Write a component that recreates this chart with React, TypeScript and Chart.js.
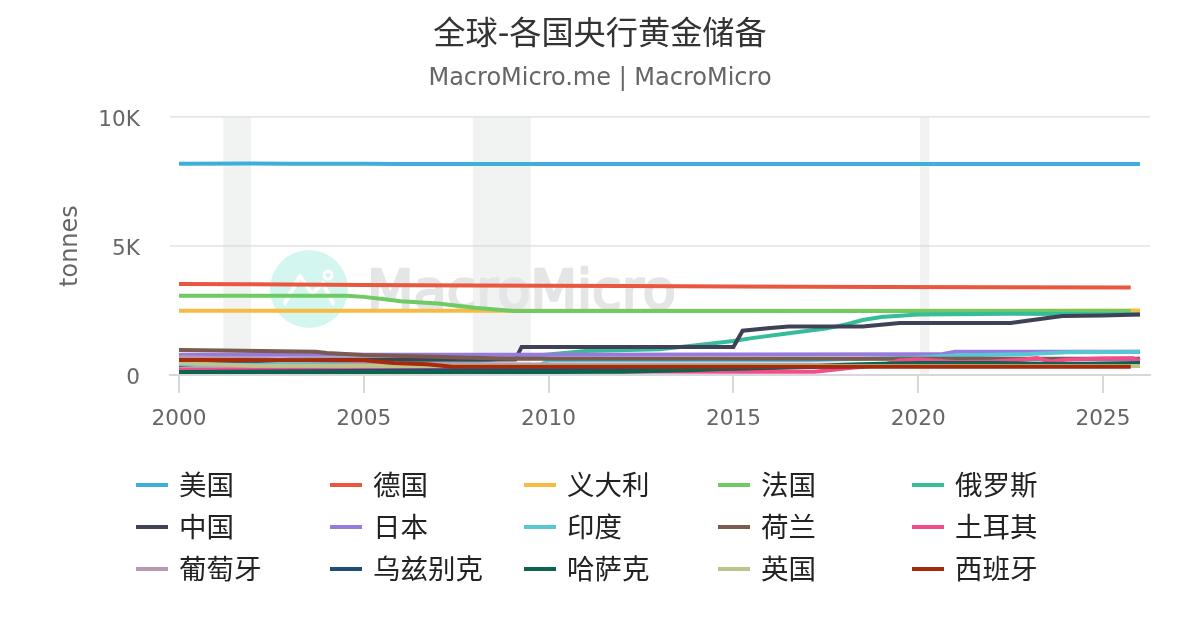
import React, { useEffect, useRef } from "react";
import { Chart, registerables } from "chart.js";

Chart.register(...registerables);

const FONT = '"DejaVu Sans", "Noto Sans CJK SC", sans-serif';

const titleText = "全球-各国央行黄金储备";
const subtitleText = "MacroMicro.me | MacroMicro";
const yAxisTitle = "tonnes";
const xTickYears = [2000, 2005, 2010, 2015, 2020, 2025];
const yTickValues = [0, 5000, 10000];
const recessions = [
  [2001.2, 2001.95],
  [2007.95, 2009.52],
  [2020.05, 2020.3],
];

const usa = [[2000, 8195], [2002, 8200], [2003, 8190], [2005, 8190], [2006, 8180], [2026, 8180]];
const germany = [[2000, 3527], [2002, 3520], [2005, 3490], [2008, 3475], [2012, 3450], [2015, 3430], [2019, 3415], [2022, 3400], [2025.75, 3390]];
const italy = [[2000, 2490], [2008, 2490], [2015, 2490], [2022, 2495], [2026, 2500]];
const france = [[2000, 3075], [2004.55, 3075], [2005, 3030], [2005.5, 2950], [2006, 2860], [2007, 2770], [2008, 2610], [2009.05, 2480], [2015, 2480], [2025.75, 2480]];
const russia = [[2000, 400], [2005, 420], [2008, 530], [2010, 800], [2011, 930], [2013, 1000], [2014, 1150], [2015, 1320], [2015.5, 1430], [2016.5, 1620], [2017.5, 1800], [2018.07, 1970], [2018.5, 2130], [2019, 2250], [2020, 2350], [2022.5, 2375], [2024, 2370], [2026, 2360]];
const china = [[2000, 395], [2003, 600], [2009.1, 600], [2009.27, 1090], [2015, 1090], [2015.25, 1717], [2016, 1820], [2016.5, 1880], [2018.5, 1880], [2019.5, 2015], [2022.5, 2015], [2023.3, 2170], [2023.9, 2290], [2025, 2310], [2026, 2350]];
const japan = [[2000, 790], [2009, 790], [2020.6, 800], [2021, 900], [2026, 900]];
const india = [[2000, 425], [2001, 400], [2009.8, 410], [2010, 560], [2017, 570], [2018, 610], [2019, 640], [2020, 680], [2021, 760], [2022, 790], [2023, 810], [2024, 880], [2026, 905]];
const netherlands = [[2000, 970], [2001.2, 950], [2003.7, 900], [2004, 850], [2005, 780], [2009, 630], [2026, 630]];
const turkey = [[2000, 220], [2005, 220], [2008, 200], [2012, 140], [2015, 130], [2017.2, 130], [2018.2, 280], [2019, 380], [2019.5, 560], [2020, 610], [2021, 500], [2022, 520], [2022.9, 600], [2023.2, 660], [2023.6, 520], [2024, 590], [2025, 640], [2025.8, 650], [2026, 560]];
const portugal = [[2000, 690], [2003, 600], [2005, 500], [2006, 440], [2010, 400], [2026, 400]];
const uzbekistan = [[2000, 116], [2015, 240], [2018, 340], [2020, 400], [2022, 420], [2024, 430], [2026, 470]];
const kazakhstan = [[2000, 116], [2010, 116], [2012, 130], [2014, 190], [2015, 250], [2016, 290], [2017, 330], [2018, 400], [2019, 440], [2020, 470], [2022, 470], [2024, 430], [2026, 440]];
const uk = [[2000, 470], [2002, 360], [2009, 350], [2026, 350]];
const spain = [[2000, 580], [2005, 570], [2005.8, 465], [2006.7, 415], [2007.4, 320], [2015, 320], [2025.75, 320]];

const seriesNames = ["美国", "德国", "义大利", "法国", "俄罗斯", "中国", "日本", "印度", "荷兰", "土耳其", "葡萄牙", "乌兹别克", "哈萨克", "英国", "西班牙"];
const seriesValues = [usa, germany, italy, france, russia, china, japan, india, netherlands, turkey, portugal, uzbekistan, kazakhstan, uk, spain];
const seriesColors = ["#3eafda", "#e9573f", "#f6bb42", "#70ca63", "#37bc9b", "#3f4257", "#967adc", "#56c7d3", "#7b5b4f", "#f04d8a", "#bb99b3", "#1c5078", "#0b6350", "#bdc48a", "#a62a0c"];

const backdropPlugin = {
  id: "backdrop",
  beforeDatasetsDraw(chart: any) {
    const { ctx, chartArea, scales } = chart;
    ctx.save();
    ctx.fillStyle = "rgba(208,214,212,0.3)";
    for (const [a, b] of recessions) {
      const x0 = scales.x.getPixelForValue(a);
      const x1 = scales.x.getPixelForValue(b);
      ctx.fillRect(x0, chartArea.top, x1 - x0, chartArea.bottom - chartArea.top);
    }
    // watermark
    ctx.fillStyle = "#d3f7f0";
    ctx.beginPath();
    ctx.arc(309, 289, 39, 0, Math.PI * 2);
    ctx.fill();
    ctx.strokeStyle = "#ffffff";
    ctx.lineWidth = 4;
    ctx.lineCap = "round";
    ctx.lineJoin = "round";
    ctx.beginPath();
    ctx.moveTo(285, 303);
    ctx.lineTo(300, 276);
    ctx.lineTo(312, 294);
    ctx.lineTo(323, 283);
    ctx.lineTo(333, 303);
    ctx.stroke();
    ctx.beginPath();
    ctx.arc(328, 275, 4, 0, Math.PI * 2);
    ctx.lineWidth = 3;
    ctx.stroke();
    ctx.fillStyle = "#e4e5e7";
    ctx.strokeStyle = "#e4e5e7";
    ctx.lineWidth = 2.6;
    ctx.font = `54px ${FONT}`;
    ctx.textAlign = "left";
    ctx.textBaseline = "alphabetic";
    ctx.fillText("MacroMicro", 367, 308);
    ctx.strokeText("MacroMicro", 367, 308);
    ctx.restore();
  },
};

const legendGridPlugin = {
  id: "legendGrid",
  afterDraw(chart: any) {
    const { ctx } = chart;
    ctx.save();
    ctx.font = `27.5px ${FONT}`;
    ctx.textAlign = "left";
    ctx.textBaseline = "middle";
    seriesNames.forEach((name, i) => {
      const col = i % 5;
      const row = Math.floor(i / 5);
      const x = 136 + col * 194;
      const y = 485 + row * 42;
      ctx.fillStyle = seriesColors[i];
      ctx.fillRect(x, y - 2, 32, 4);
      ctx.fillStyle = "#222222";
      ctx.fillText(name, x + 43, y + 3);
    });
    ctx.restore();
  },
};

export default function App() {
  const ref = useRef<HTMLCanvasElement | null>(null);
  useEffect(() => {
    document.body.style.margin = "0";
    const chart = new Chart(ref.current as HTMLCanvasElement, {
      type: "line",
      data: {
        datasets: seriesNames.map((name, i) => ({
          label: name,
          data: seriesValues[i].map(([x, y]) => ({ x, y })),
          borderColor: seriesColors[i],
          backgroundColor: seriesColors[i],
          borderWidth: 4,
          pointRadius: 0,
          tension: 0,
          fill: false,
          yAxisID: "y",
          order: seriesNames.length - i,
        })),
      },
      plugins: [backdropPlugin, legendGridPlugin],
      options: {
        responsive: false,
        animation: false,
        devicePixelRatio: 1,
        layout: { padding: 0 },
        plugins: {
          legend: { display: false },
          tooltip: { enabled: false },
          title: {
            display: true,
            text: titleText,
            color: "#333333",
            font: { family: FONT, size: 32.2, weight: "normal" },
            padding: { top: 16, bottom: 10 },
          },
          subtitle: {
            display: true,
            text: subtitleText,
            color: "#666666",
            font: { family: FONT, size: 24, weight: "normal" },
            padding: { top: 0, bottom: 23.7 },
          },
        },
        scales: {
          x: {
            type: "linear",
            min: 2000 - 9 / 36.96,
            max: 2000 + 971 / 36.96,
            afterBuildTicks(axis: any) {
              axis.ticks = xTickYears.map((value) => ({ value }));
            },
            afterFit(axis: any) {
              axis.height = 255;
            },
            ticks: {
              autoSkip: false,
              maxRotation: 0,
              color: "#666666",
              padding: 13,
              font: { family: FONT, size: 21.6 },
              callback: (v: any) => String(v),
            },
            grid: { drawOnChartArea: false, drawTicks: true, tickLength: 18, color: "#d8d8d8", lineWidth: 2 },
            border: { color: "#d8d8d8", width: 2 },
          },
          y: {
            type: "linear",
            min: 0,
            max: 10000,
            afterBuildTicks(axis: any) {
              axis.ticks = yTickValues.map((value) => ({ value }));
            },
            afterFit(axis: any) {
              axis.width = 170;
            },
            ticks: {
              color: "#666666",
              padding: 30,
              labelOffset: 3,
              font: { family: FONT, size: 21.6 },
              callback: (v: any) => (v === 0 ? "0" : `${v / 1000}K`),
            },
            grid: { drawTicks: false, color: "#e6e6e6", lineWidth: 1.8 },
            border: { display: false },
            title: {
              display: true,
              text: yAxisTitle,
              color: "#666666",
              font: { family: FONT, size: 24, weight: "normal" },
              padding: { top: 56, bottom: 0 },
            },
          },
          rightGutter: {
            type: "linear",
            position: "right",
            display: true,
            ticks: { display: false },
            grid: { display: false },
            border: { display: false },
            afterFit(axis: any) {
              axis.width = 50;
            },
          },
        },
      } as any,
    });
    return () => chart.destroy();
  }, []);
  return (
    <div style={{ position: "absolute", left: 0, top: 0, width: 1200, height: 630 }}>
      <canvas ref={ref} width={1200} height={630} style={{ display: "block", width: 1200, height: 630 }} />
    </div>
  );
}
